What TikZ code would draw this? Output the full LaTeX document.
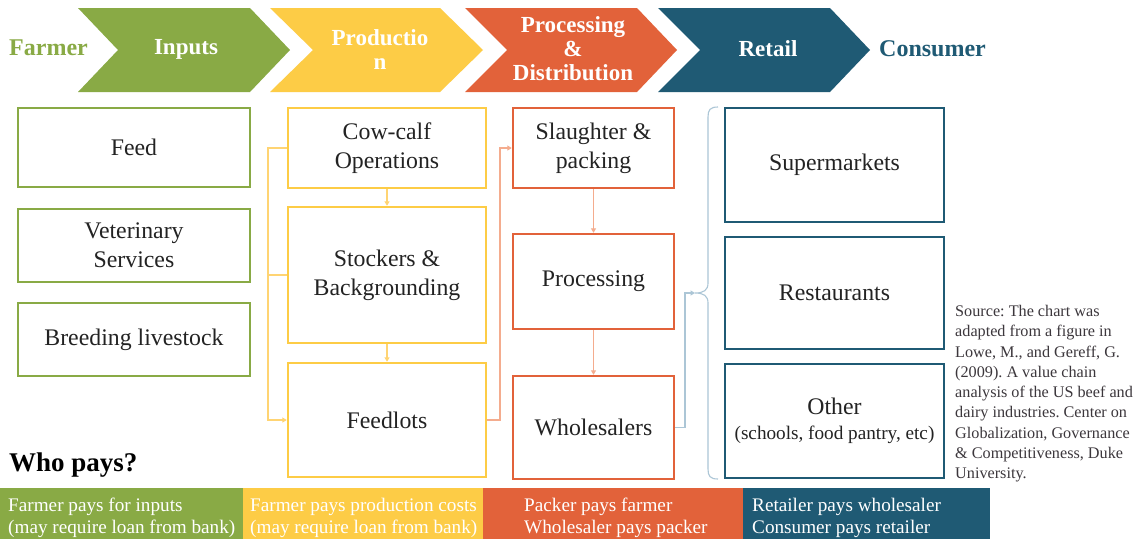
\documentclass[tikz,border=0pt]{standalone}
\usepackage{fontspec}
\setmainfont{Liberation Serif}
\usetikzlibrary{arrows.meta}
\frenchspacing

\definecolor{cgreen}{RGB}{137,170,69}
\definecolor{cyellow}{RGB}{253,204,70}
\definecolor{corange}{RGB}{226,98,58}
\definecolor{cblue}{RGB}{31,90,116}
\definecolor{lyellow}{RGB}{255,212,115}
\definecolor{lorange}{RGB}{244,172,142}
\definecolor{lblue}{RGB}{172,198,214}
\definecolor{ink}{RGB}{35,35,35}
\definecolor{srcink}{RGB}{60,55,60}

\begin{document}
\begin{tikzpicture}[x=1pt,y=-1pt,
  stagetext/.style={text=white, font=\fontsize{23}{24}\selectfont\bfseries, align=center, inner sep=0pt},
  endtext/.style={text=#1, font=\fontsize{24}{25}\selectfont\bfseries, anchor=west, inner sep=0pt},
  box/.style={draw=#1, line width=2.4pt, fill=white, text=ink, font=\fontsize{23.8}{29}\selectfont, align=center, inner sep=0pt},
  link/.style={draw=#1, line width=1.1pt},
  tip/.style={-{Triangle[width=5pt,length=4.5pt]}},
  paytext/.style={text=white, font=\fontsize{19.2}{22}\selectfont, align=left, anchor=west, inner sep=0pt},
]
\useasboundingbox (0,0) rectangle (1138,539);
\fill[white] (0,0) rectangle (1138,539);

% ---- stage chevrons ----
\fill[cgreen]  (78,8)  -- (250,8) -- (290,50) -- (250,92) -- (78,92)  -- (118,50) -- cycle;
\fill[cyellow] (270,8) -- (440,8) -- (483,50) -- (440,92) -- (270,92) -- (313,50) -- cycle;
\fill[corange] (465,8) -- (637,8) -- (677,50) -- (637,92) -- (465,92) -- (507,50) -- cycle;
\fill[cblue]   (658,8) -- (830,8) -- (870,50) -- (830,92) -- (658,92) -- (700,50) -- cycle;

\node[endtext=cgreen] (farmer) at (9,48) {Farmer};
\node[stagetext] (inputs) at (186,49) {Inputs};
\node[stagetext] (production) at (380,50) {Productio\\n};
\node[stagetext] (processing) at (573,49) {Processing\\\&\\Distribution};
\node[stagetext] (retail) at (768,49) {Retail};
\node[endtext=cblue] (consumer) at (879,49) {Consumer};

% ---- inputs ----
\node[box=cgreen, minimum width=232, minimum height=79] (feed) at (134,147.5) {Feed};
\node[box=cgreen, minimum width=232, minimum height=73] (vet) at (134,245.5) {Veterinary\\Services};
\node[box=cgreen, minimum width=232, minimum height=73] (breed) at (134,339.5) {Breeding livestock};

% ---- production ----
\node[box=cyellow, minimum width=198, minimum height=80]  (cow) at (387,148) {Cow-calf\\Operations};
\node[box=cyellow, minimum width=198, minimum height=136] (stock) at (387,275) {Stockers \&\\Backgrounding};
\node[box=cyellow, minimum width=198, minimum height=114] (feedlots) at (387,420) {Feedlots};

% ---- processing & distribution ----
\node[box=corange, minimum width=161, minimum height=80]  (slaughter) at (593.5,148) {Slaughter \&\\packing};
\node[box=corange, minimum width=161, minimum height=95]  (proc) at (593.5,281.5) {Processing};
\node[box=corange, minimum width=161, minimum height=103] (whole) at (593.5,427.5) {Wholesalers};

% ---- retail ----
\node[box=cblue, minimum width=219, minimum height=114] (super) at (834.5,165) {Supermarkets};
\node[box=cblue, minimum width=219, minimum height=112] (rest) at (834.5,293) {Restaurants};
\node[box=cblue, minimum width=219, minimum height=114] (other) at (834.5,421)
  {Other\\[-4pt]{\fontsize{19.2}{21}\selectfont (schools, food pantry, etc)}};

% ---- connectors ----
\coordinate (ybus) at (268,0);
\coordinate (obus) at (500,0);
\coordinate (bbus) at (685,0);
\coordinate (bracetip) at (695,293);

\draw[link=lyellow, tip] (cow.west) -- (cow.west -| ybus) |- (feedlots.west);
\draw[link=lyellow] (stock.west) -- (stock.west -| ybus);
\draw[link=lyellow, tip] (cow.south) -- (stock.north);
\draw[link=lyellow, tip] (stock.south) -- (feedlots.north);

\draw[link=lorange, tip] (feedlots.east) -- (feedlots.east -| obus) |- (slaughter.west);
\draw[link=lorange, tip] (slaughter.south) -- (proc.north);
\draw[link=lorange, tip] (proc.south) -- (whole.north);

\draw[link=lblue, tip] (whole.east) -- (whole.east -| bbus) |- (bracetip);
\draw[link=lblue] (718,107) .. controls (710,107) and (708,110) .. (708,117) -- (708,283)
  .. controls (708,290) and (704,293) .. (bracetip)
  .. controls (704,293) and (708,296) .. (708,303) -- (708,469)
  .. controls (708,476) and (710,479) .. (718,479);

% ---- source note ----
\node[anchor=north west, align=left, inner sep=0pt, text=srcink,
      font=\fontsize{16.2}{20.3}\selectfont] (source) at (955,305)
  {Source: The chart was\\adapted from a figure in\\Lowe, M., and Gereff, G.\\(2009). A value chain\\analysis of the US beef and\\dairy industries. Center on\\Globalization, Governance\\\& Competitiveness, Duke\\University.};

% ---- who pays ----
\node[anchor=west, inner sep=0pt, text=black, font=\fontsize{27}{30}\selectfont\bfseries] (who) at (9,465) {Who pays?};

\fill[cgreen]  (0,488)   rectangle (243,539);
\fill[cyellow] (243,488) rectangle (483,539);
\fill[corange] (483,488) rectangle (743,539);
\fill[cblue]   (743,488) rectangle (990,539);

\node[paytext] (payin) at (8,518) {Farmer pays for inputs\\(may require loan from bank)};
\node[paytext] (payprod) at (250,518) {Farmer pays production costs\\(may require loan from bank)};
\node[paytext] (paypack) at (524,518) {Packer pays farmer\\Wholesaler pays packer};
\node[paytext] (payret) at (752,518) {Retailer pays wholesaler\\Consumer pays retailer};
\end{tikzpicture}
\end{document}
